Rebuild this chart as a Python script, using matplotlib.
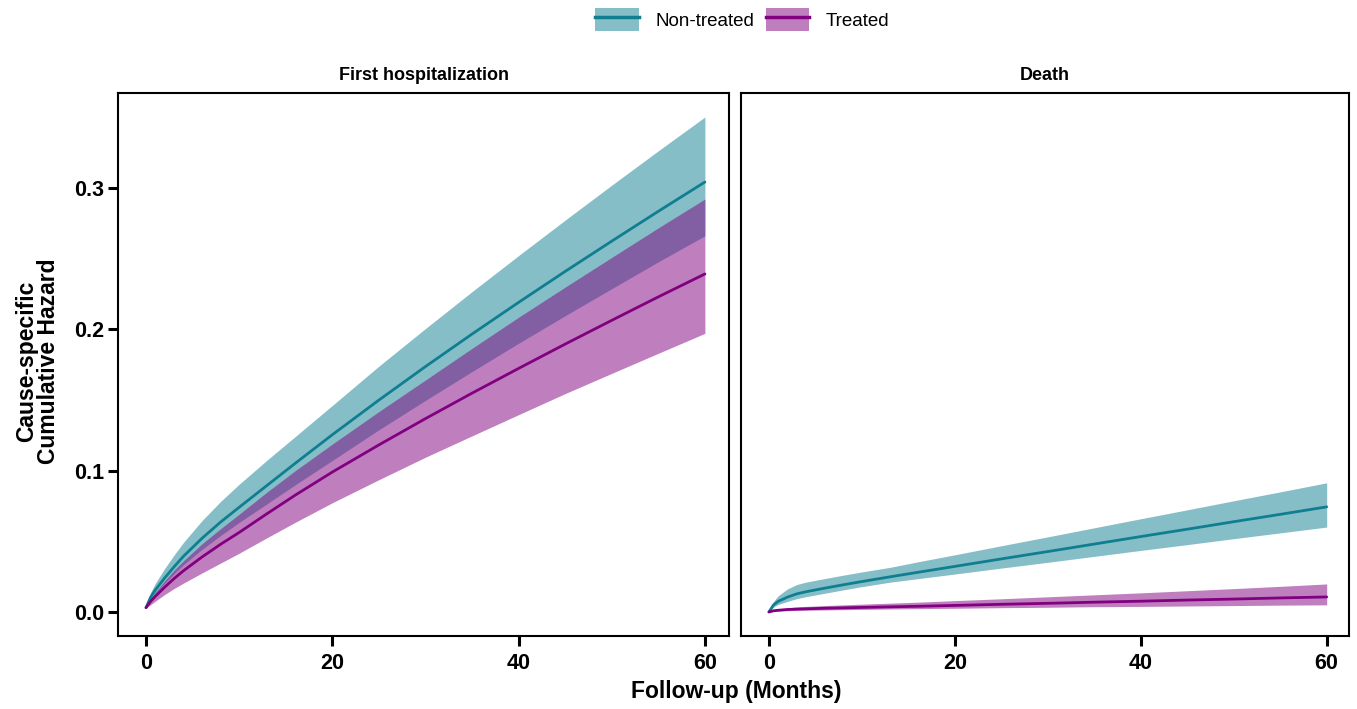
import matplotlib
matplotlib.use("Agg")
import matplotlib.pyplot as plt
from matplotlib.patches import Patch
from matplotlib.lines import Line2D

plt.rcParams['font.family'] = ['Liberation Sans', 'DejaVu Sans']

months = [0, 0.5, 1, 2, 3, 4, 6, 8, 10, 13, 16, 20, 25, 30, 35, 40, 45, 50, 55, 60]

# First hospitalization
hosp_non = [0.003, 0.0105, 0.0155, 0.0240, 0.0318, 0.0392, 0.0520, 0.0635, 0.0740, 0.0895,
            0.1050, 0.1253, 0.1498, 0.1735, 0.1965, 0.2189, 0.2408, 0.2622, 0.2833, 0.304]
hosp_non_hi = [0.003, 0.0139, 0.0202, 0.0307, 0.0401, 0.0490, 0.0645, 0.0781, 0.0903, 0.1074,
               0.1239, 0.1460, 0.1738, 0.2004, 0.2265, 0.2520, 0.2771, 0.3018, 0.3261, 0.350]
hosp_non_lo = [0.003, 0.0087, 0.0130, 0.0204, 0.0270, 0.0333, 0.0442, 0.0540, 0.0633, 0.0765,
               0.0898, 0.1071, 0.1288, 0.1496, 0.1700, 0.1900, 0.2095, 0.2286, 0.2476, 0.266]
hosp_trt = [0.003, 0.0075, 0.0110, 0.0175, 0.0235, 0.0290, 0.0388, 0.0478, 0.0562, 0.0695,
            0.0825, 0.0989, 0.1181, 0.1367, 0.1547, 0.1722, 0.1894, 0.2062, 0.2228, 0.239]
hosp_trt_hi = [0.003, 0.0095, 0.0139, 0.0219, 0.0294, 0.0360, 0.0481, 0.0588, 0.0691, 0.0848,
               0.0998, 0.1187, 0.1417, 0.1640, 0.1864, 0.2084, 0.2297, 0.2507, 0.2716, 0.292]
hosp_trt_lo = [0.003, 0.0051, 0.0076, 0.0123, 0.0165, 0.0203, 0.0275, 0.0345, 0.0415, 0.0525,
               0.0633, 0.0772, 0.0935, 0.1094, 0.1245, 0.1395, 0.1544, 0.1687, 0.1829, 0.197]

# Death
death_non = [0.0, 0.0050, 0.0075, 0.0105, 0.0128, 0.0143, 0.0168, 0.0192, 0.0215, 0.0248,
             0.0280, 0.0322, 0.0375, 0.0427, 0.0480, 0.0533, 0.0585, 0.0638, 0.0690, 0.0743]
death_non_hi = [0.0, 0.0075, 0.0115, 0.0163, 0.0194, 0.0211, 0.0236, 0.0260, 0.0283, 0.0315,
                0.0354, 0.0404, 0.0468, 0.0531, 0.0595, 0.0659, 0.0722, 0.0786, 0.0849, 0.0913]
death_non_lo = [0.0, 0.0035, 0.0053, 0.0075, 0.0094, 0.0108, 0.0132, 0.0156, 0.0179, 0.0210,
                0.0235, 0.0268, 0.0310, 0.0351, 0.0393, 0.0435, 0.0476, 0.0518, 0.0559, 0.0600]
death_trt = [0.0, 0.0008, 0.0012, 0.0017, 0.0020, 0.0022, 0.0026, 0.0029, 0.0032, 0.0036,
             0.0040, 0.0046, 0.0054, 0.0061, 0.0069, 0.0076, 0.0084, 0.0091, 0.0099, 0.0106]
death_trt_hi = [0.0, 0.0014, 0.0021, 0.0030, 0.0035, 0.0039, 0.0045, 0.0050, 0.0055, 0.0062,
                0.0069, 0.0080, 0.0093, 0.0107, 0.0121, 0.0135, 0.0150, 0.0165, 0.0181, 0.0198]
death_trt_lo = [0.0, 0.0004, 0.0006, 0.0009, 0.0011, 0.0012, 0.0014, 0.0016, 0.0018, 0.0021,
                0.0023, 0.0026, 0.0030, 0.0033, 0.0037, 0.0039, 0.0042, 0.0045, 0.0048, 0.0050]

groups = ['Non-treated', 'Treated']
colors = ['#0F7E91', '#800080']
panel_titles = ['First hospitalization', 'Death']

fig = plt.figure(figsize=(13.57, 7.09), dpi=100)
ax1 = fig.add_axes([0.0870, 0.103, 0.4503, 0.7659])
ax2 = fig.add_axes([0.5461, 0.103, 0.4480, 0.7659])

panels = [
    (ax1, [(hosp_non, hosp_non_lo, hosp_non_hi), (hosp_trt, hosp_trt_lo, hosp_trt_hi)]),
    (ax2, [(death_non, death_non_lo, death_non_hi), (death_trt, death_trt_lo, death_trt_hi)]),
]

for (ax, series), title in zip(panels, panel_titles):
    for (mid, lo, hi), c in zip(series, colors):
        ax.fill_between(months, lo, hi, color=c, alpha=0.5, linewidth=0)
    for (mid, lo, hi), c in zip(series, colors):
        ax.plot(months, mid, color=c, linewidth=2.0, solid_capstyle='round')
    ax.set_ylim(-0.017, 0.367)
    ax.set_xticks([0, 20, 40, 60])
    ax.set_yticks([0.0, 0.1, 0.2, 0.3])
    ax.set_yticklabels(['0.0', '0.1', '0.2', '0.3'])
    for s in ax.spines.values():
        s.set_linewidth(1.5)
    ax.tick_params(direction='out', length=7, width=2.2, labelsize=15.5)
    ax.tick_params(axis='x', pad=5)
    ax.tick_params(axis='y', pad=3)
    for lab in ax.get_xticklabels() + ax.get_yticklabels():
        lab.set_fontweight('bold')
    ax.set_title(title, fontsize=13, fontweight='bold', pad=9)

ax1.set_xlim(-3.0, 62.6)
ax2.set_xlim(-3.0, 62.4)
ax2.tick_params(axis='y', left=False, labelleft=False)

fig.text(0.0275, 0.49, 'Cause-specific\nCumulative Hazard', rotation=90, ha='center', va='center',
         fontsize=16.5, fontweight='bold', linespacing=0.92)
fig.text(0.5425, 0.024, 'Follow-up (Months)', ha='center', va='center',
         fontsize=16.5, fontweight='bold')

handles = [(Patch(facecolor=c, alpha=0.5, edgecolor='none'), Line2D([], [], color=c, linewidth=2.5))
           for c in colors]
fig.legend(handles, groups, loc='center', bbox_to_anchor=(0.547, 0.972), ncol=2, frameon=False,
           fontsize=13.5, handlelength=2.3, handleheight=1.5, columnspacing=0.6, handletextpad=0.9)

fig.savefig('out.png', dpi=100)
